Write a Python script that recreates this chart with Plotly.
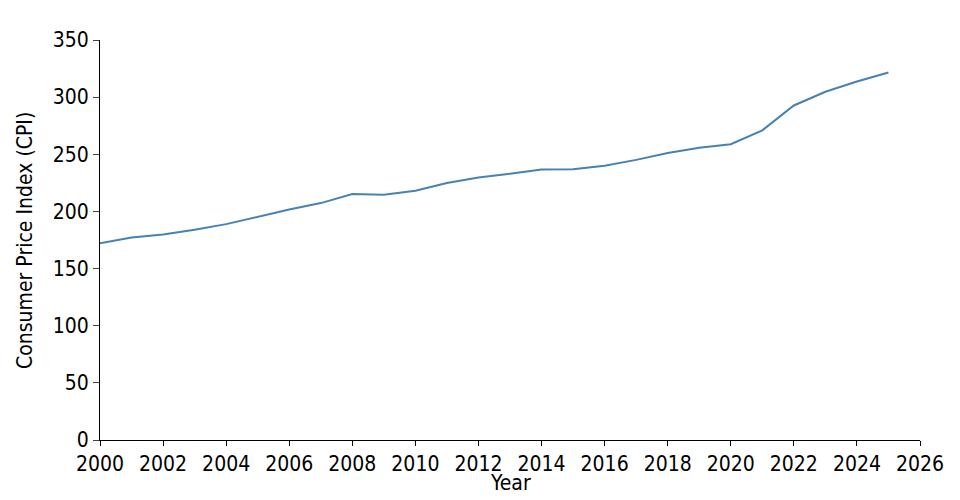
import plotly.graph_objects as go

years = list(range(2000, 2026))
cpi = [172.2, 177.1, 179.9, 184.0, 188.9, 195.3, 201.6, 207.3, 215.3, 214.5,
       218.1, 224.9, 229.6, 233.0, 236.7, 237.0, 240.0, 245.1, 251.1, 255.7,
       258.8, 271.0, 292.7, 304.7, 313.7, 321.5]
x_ticks = list(range(2000, 2027, 2))
y_ticks = list(range(0, 351, 50))

FONT = "DejaVu Sans Condensed, DejaVu Sans, sans-serif"

fig = go.Figure(go.Scatter(x=years, y=cpi, mode="lines",
                           line=dict(color="#4682b4", width=2), hoverinfo="x+y"))

fig.update_layout(
    width=960, height=500,
    margin=dict(l=92, r=48, t=32, b=68),
    plot_bgcolor="white", paper_bgcolor="white",
    font=dict(family=FONT, size=21, color="black"),
    showlegend=False,
)
fig.update_xaxes(range=[2000, 2026], tickvals=x_ticks, ticktext=[str(t) for t in x_ticks],
                 showgrid=False, zeroline=False, showline=True, linecolor="black", linewidth=1,
                 ticks="outside", ticklen=5, tickcolor="black", tickfont=dict(size=21))
fig.update_yaxes(range=[0, 350], tickvals=y_ticks, showgrid=False, zeroline=False,
                 showline=True, linecolor="black", linewidth=1,
                 ticks="outside", ticklen=6, tickcolor="#444", tickfont=dict(size=21))

fig.add_annotation(text="Year", xref="paper", yref="paper", x=0.5, y=-0.107,
                   xanchor="center", yanchor="middle", showarrow=False,
                   font=dict(size=21))
fig.add_annotation(text="Consumer Price Index (CPI)", xref="paper", yref="paper",
                   x=-0.0915, y=0.5, xanchor="center", yanchor="middle",
                   textangle=-90, showarrow=False, font=dict(size=21))

fig.write_html("out.html")
